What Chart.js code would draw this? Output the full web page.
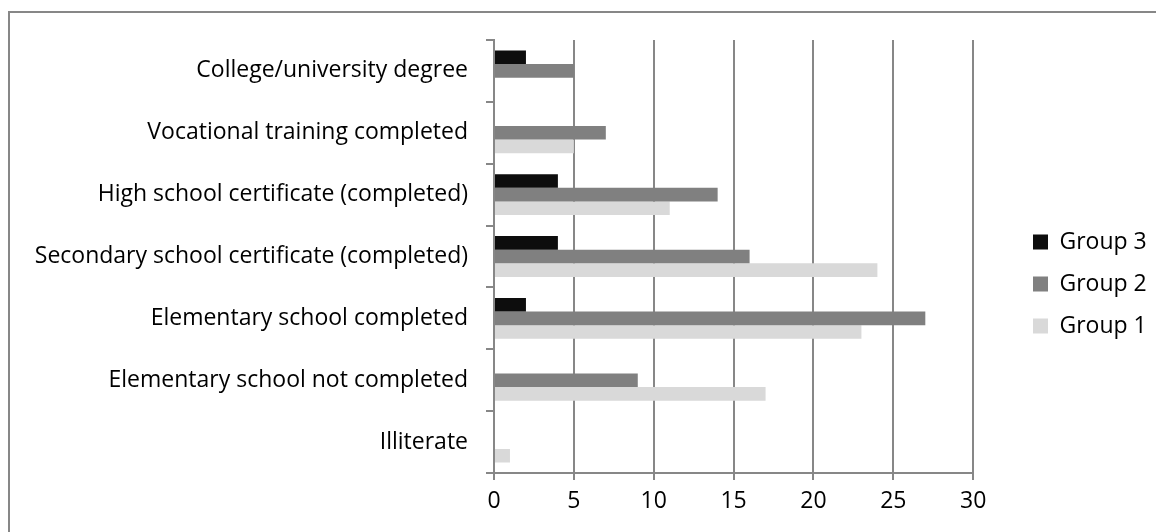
<!DOCTYPE html>
<html>
<head>
<meta charset="utf-8">
<script src="https://cdn.jsdelivr.net/npm/chart.js@4/dist/chart.umd.min.js"></script>
<style>
  html, body { margin: 0; padding: 0; background: #ffffff; overflow: hidden; }
  #wrap { position: relative; width: 1156px; height: 532px; overflow: hidden; }
  #frame { position: absolute; left: 8px; top: 11px; width: 1300px; height: 700px;
           border-left: 2px solid #878787; border-top: 2px solid #878787; box-sizing: border-box; }
  #c { position: absolute; left: 0; top: 0; }
</style>
</head>
<body>
<div id="wrap">
  <div id="frame"></div>
  <canvas id="c" width="1156" height="532"></canvas>
</div>
<script>
// Education levels (top to bottom)
const categories = [
  'College/university degree',
  'Vocational training completed',
  'High school certificate (completed)',
  'Secondary school certificate (completed)',
  'Elementary school completed',
  'Elementary school not completed',
  'Illiterate'
];

// Counts per group
const group3 = [2, 0, 4, 4, 2, 0, 0];
const group2 = [5, 7, 14, 16, 27, 9, 0];
const group1 = [0, 5, 11, 24, 23, 17, 1];

// Value axis ticks
const xTicks = [0, 5, 10, 15, 20, 25, 30];

const FONT = '"Open Sans", "Liberation Sans", sans-serif';
const FONT_SIZE = 23;
const AXIS = '#878787';
const LEGEND_PAD = 19;

// Places the legend column a fixed distance right of the plot area
const legendShift = {
  id: 'legendShift',
  afterLayout(chart) {
    const lg = chart.legend;
    if (!lg) return;
    const targetLeft = 1033 - LEGEND_PAD;
    const dx = targetLeft - lg.left;
    lg.left += dx;
    lg.right += dx;
  }
};

new Chart(document.getElementById('c'), {
  type: 'bar',
  data: {
    labels: categories,
    datasets: [
      { label: 'Group 3', data: group3, backgroundColor: '#0d0d0d' },
      { label: 'Group 2', data: group2, backgroundColor: '#808080' },
      { label: 'Group 1', data: group1, backgroundColor: '#d9d9d9' }
    ]
  },
  options: {
    indexAxis: 'y',
    responsive: false,
    animation: false,
    devicePixelRatio: 1,
    categoryPercentage: 0.66,
    barPercentage: 1.0,
    layout: { padding: { left: 0, right: 40, top: 40, bottom: 4 } },
    plugins: {
      legend: {
        position: 'right',
        align: 'center',
        labels: {
          boxWidth: 15,
          boxHeight: 15,
          padding: LEGEND_PAD,
          color: '#000000',
          font: { family: FONT, size: FONT_SIZE }
        }
      },
      tooltip: { enabled: false }
    },
    scales: {
      x: {
        min: 0,
        max: 30,
        afterBuildTicks(scale) { scale.ticks = xTicks.map(v => ({ value: v })); },
        afterFit(scale) { scale.height = 55; },
        grid: { color: AXIS, lineWidth: 2, tickLength: 7, drawOnChartArea: true },
        border: { color: AXIS, width: 2 },
        ticks: { color: '#000000', padding: 8, font: { family: FONT, size: FONT_SIZE } }
      },
      y: {
        afterFit(scale) { scale.width = 494; },
        grid: { offset: true, drawOnChartArea: false, color: AXIS, lineWidth: 2, tickLength: 8 },
        border: { color: AXIS, width: 2 },
        ticks: { color: '#000000', padding: 18, font: { family: FONT, size: FONT_SIZE } }
      }
    }
  },
  plugins: [legendShift]
});
</script>
</body>
</html>
